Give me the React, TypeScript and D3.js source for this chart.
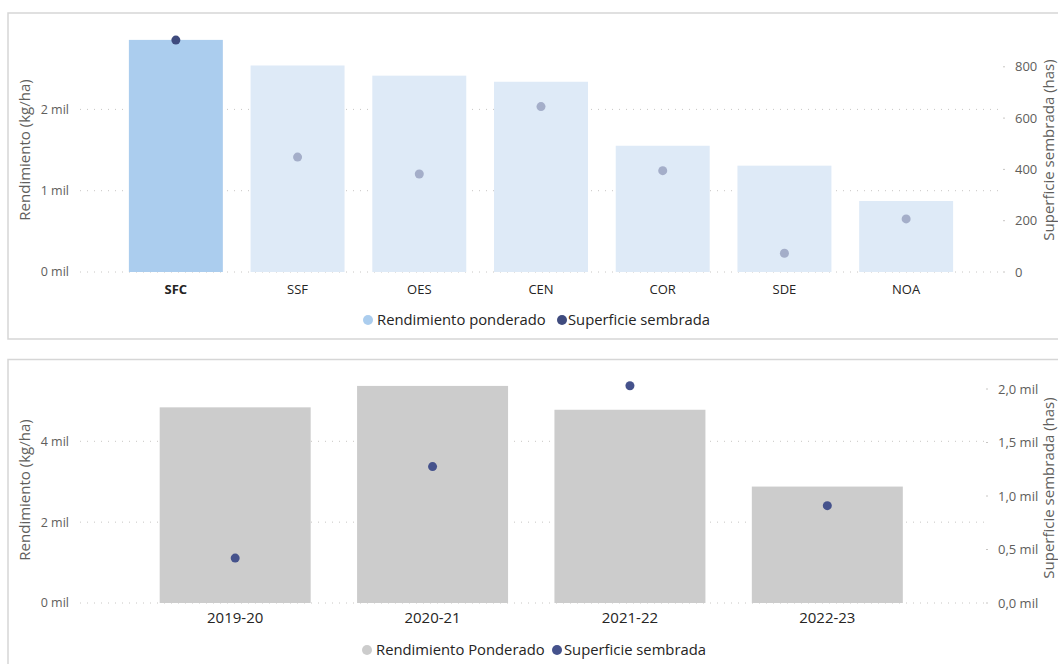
import React from "react";
import * as d3 from "d3";

// ---- Data: top chart (regions) ----
const regions = ["SFC", "SSF", "OES", "CEN", "COR", "SDE", "NOA"];
const regionYield = [2855, 2540, 2415, 2340, 1553, 1308, 873];
const regionArea = [904, 448, 382, 645, 395, 73, 207];
const highlighted = "SFC";
const topLeftTicks = [0, 1000, 2000];
const topRightTicks = [0, 200, 400, 600, 800];

// ---- Data: bottom chart (campaigns) ----
const campaigns = ["2019-20", "2020-21", "2021-22", "2022-23"];
const campaignYield = [4840, 5370, 4780, 2880];
const campaignArea = [420, 1275, 2030, 910];
const bottomLeftTicks = [0, 2000, 4000];
const bottomRightTicks = [0, 500, 1000, 1500, 2000];

const FONT = "'Segoe UI', 'Open Sans', 'Noto Sans', sans-serif";
const AXIS_COLOR = "#605e5c";
const LABEL_COLOR = "#252423";
const GRID_COLOR = "#c8c6c4";

const milInt = (v: number) => `${Math.round(v / 1000)} mil`;
const milDec = (v: number) => `${(v / 1000).toFixed(1).replace(".", ",")} mil`;

function TopChart() {
  const x = d3.scaleBand<string>().domain(regions).range([115, 967]).paddingInner(0.228).paddingOuter(0.114);
  const yL = d3.scaleLinear().domain([0, 3000]).range([272, 28.1]);
  const yR = d3.scaleLinear().domain([0, 1000]).range([272, 15.5]);
  const gridX0 = 80;
  const gridX1 = 1003;
  return (
    <g>
      <rect x={8} y={13} width={1060} height={326} fill="#fff" stroke="#d6d6d6" strokeWidth={1.5} />
      {topLeftTicks.map((t) => (
        <g key={"gl" + t}>
          <line x1={gridX0} x2={gridX1} y1={yL(t)} y2={yL(t)} stroke={GRID_COLOR} strokeWidth={1} strokeDasharray="1,6" />
          <text x={69} y={yL(t)} dy="0.35em" textAnchor="end" fontSize={12.5} fill={AXIS_COLOR} fontFamily={FONT}>
            {milInt(t)}
          </text>
        </g>
      ))}
      {topRightTicks.map((t) => (
        <g key={"gr" + t}>
          <line x1={1003} x2={1005} y1={yR(t)} y2={yR(t)} stroke={GRID_COLOR} strokeWidth={1} />
          <text x={1015} y={yR(t)} dy="0.35em" textAnchor="start" fontSize={13} fill={AXIS_COLOR} fontFamily={FONT}>
            {t}
          </text>
        </g>
      ))}
      {regions.map((r, i) => (
        <rect
          key={"b" + r}
          x={x(r)}
          y={yL(regionYield[i])}
          width={x.bandwidth()}
          height={yL(0) - yL(regionYield[i])}
          fill={r === highlighted ? "#abcdee" : "#deeaf7"}
        />
      ))}
      {regions.map((r, i) => (
        <circle
          key={"d" + r}
          cx={(x(r) as number) + x.bandwidth() / 2}
          cy={yR(regionArea[i])}
          r={4.5}
          fill={r === highlighted ? "#3f4b7e" : "#a4aec9"}
        />
      ))}
      {regions.map((r) => (
        <text
          key={"l" + r}
          x={(x(r) as number) + x.bandwidth() / 2}
          y={289}
          dy="0.35em"
          textAnchor="middle"
          fontSize={13}
          fontWeight={r === highlighted ? 700 : 400}
          fill={LABEL_COLOR}
          fontFamily={FONT}
        >
          {r}
        </text>
      ))}
      <text
        transform={`translate(25,150) rotate(-90)`}
        textAnchor="middle"
        dy="0.35em"
        fontSize={15}
        fill={AXIS_COLOR}
        fontFamily={FONT}
      >
        Rendimiento (kg/ha)
      </text>
      <text
        transform={`translate(1049,150) rotate(-90)`}
        textAnchor="middle"
        dy="0.35em"
        fontSize={15}
        fill={AXIS_COLOR}
        fontFamily={FONT}
      >
        Superficie sembrada (has)
      </text>
      <circle cx={368} cy={320} r={5} fill="#abcdee" />
      <text x={377} y={320} dy="0.35em" fontSize={14.8} fill={LABEL_COLOR} fontFamily={FONT}>
        Rendimiento ponderado
      </text>
      <circle cx={562} cy={320} r={5} fill="#3f4b7e" />
      <text x={568} y={320} dy="0.35em" fontSize={14.8} fill={LABEL_COLOR} fontFamily={FONT}>
        Superficie sembrada
      </text>
    </g>
  );
}

function BottomChart() {
  const x = d3.scaleBand<string>().domain(campaigns).range([136.5, 926]).paddingInner(0.235).paddingOuter(0.1175);
  const yL = d3.scaleLinear().domain([0, 4000]).range([603, 441.3]);
  const yR = d3.scaleLinear().domain([0, 2000]).range([603, 389]);
  const gridX0 = 80;
  const gridX1 = 985;
  return (
    <g>
      <rect x={8} y={359.5} width={1060} height={320} fill="#fff" stroke="#d6d6d6" strokeWidth={1.5} />
      {bottomLeftTicks.map((t) => (
        <g key={"gl" + t}>
          <line x1={gridX0} x2={gridX1} y1={yL(t)} y2={yL(t)} stroke={GRID_COLOR} strokeWidth={1} strokeDasharray="1,6" />
          <text x={69} y={yL(t)} dy="0.35em" textAnchor="end" fontSize={12.5} fill={AXIS_COLOR} fontFamily={FONT}>
            {milInt(t)}
          </text>
        </g>
      ))}
      {bottomRightTicks.map((t) => (
        <g key={"gr" + t}>
          <line x1={986} x2={988} y1={yR(t)} y2={yR(t)} stroke={GRID_COLOR} strokeWidth={1} />
          <text x={998} y={yR(t)} dy="0.35em" textAnchor="start" fontSize={13} fill={AXIS_COLOR} fontFamily={FONT}>
            {milDec(t)}
          </text>
        </g>
      ))}
      {campaigns.map((c, i) => (
        <rect
          key={"b" + c}
          x={x(c)}
          y={yL(campaignYield[i])}
          width={x.bandwidth()}
          height={yL(0) - yL(campaignYield[i])}
          fill="#cccccc"
        />
      ))}
      {campaigns.map((c, i) => (
        <circle key={"d" + c} cx={(x(c) as number) + x.bandwidth() / 2} cy={yR(campaignArea[i])} r={4.5} fill="#45528c" />
      ))}
      {campaigns.map((c) => (
        <text
          key={"l" + c}
          x={(x(c) as number) + x.bandwidth() / 2}
          y={618}
          dy="0.35em"
          textAnchor="middle"
          fontSize={15}
          fill={LABEL_COLOR}
          fontFamily={FONT}
        >
          {c}
        </text>
      ))}
      <text
        transform={`translate(25,490) rotate(-90)`}
        textAnchor="middle"
        dy="0.35em"
        fontSize={15}
        fill={AXIS_COLOR}
        fontFamily={FONT}
      >
        Rendimiento (kg/ha)
      </text>
      <text
        transform={`translate(1049,488) rotate(-90)`}
        textAnchor="middle"
        dy="0.35em"
        fontSize={15}
        fill={AXIS_COLOR}
        fontFamily={FONT}
      >
        Superficie sembrada (has)
      </text>
      <circle cx={367} cy={650} r={5} fill="#cccccc" />
      <text x={376} y={650} dy="0.35em" fontSize={14.8} fill={LABEL_COLOR} fontFamily={FONT}>
        Rendimiento Ponderado
      </text>
      <circle cx={557} cy={650} r={5} fill="#45528c" />
      <text x={564} y={650} dy="0.35em" fontSize={14.8} fill={LABEL_COLOR} fontFamily={FONT}>
        Superficie sembrada
      </text>
    </g>
  );
}

export default function App() {
  return (
    <svg
      width={1058}
      height={664}
      viewBox="0 0 1058 664"
      style={{ position: "absolute", left: 0, top: 0, background: "#fff" }}
    >
      <rect x={0} y={0} width={1058} height={664} fill="#fff" />
      <TopChart />
      <BottomChart />
    </svg>
  );
}
